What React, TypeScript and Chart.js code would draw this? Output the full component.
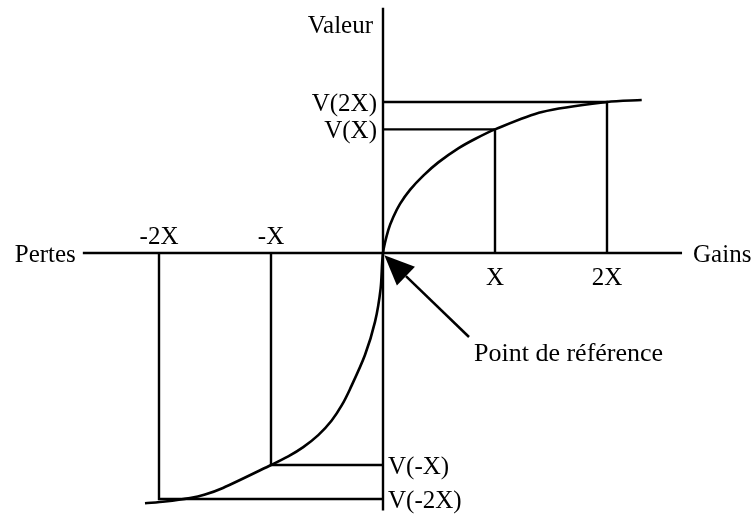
import React, { useEffect, useRef } from "react";
import { Chart, registerables } from "chart.js";

Chart.register(...registerables);

// Value function curve (x in units of X, y in value units)
const curveX = [
  -2.125, -1.946, -1.723, -1.589, -1.429, -1.0, -0.846, -0.712, -0.578, -0.458, -0.369, -0.295, -0.161, -0.071, -0.021,
  0, 0.047, 0.092, 0.152, 0.241, 0.36, 0.494, 0.672, 0.821, 1.0, 1.42, 2.0, 2.31,
];
const curveY = [
  -2.235, -2.219, -2.1875, -2.156, -2.098, -1.893, -1.816, -1.733, -1.626, -1.495, -1.361, -1.216, -0.911, -0.613, -0.315,
  0, 0.204, 0.322, 0.439, 0.564, 0.691, 0.809, 0.934, 1.018, 1.104, 1.259, 1.348, 1.366,
];

// Marked outcomes and their values
const tickX = [-2, -1, 1, 2];
const tickXLabels = ["-2X", "-X", "X", "2X"];
const tickV = [-2.196, -1.893, 1.104, 1.348];
const tickVLabels = ["V(-2X)", "V(-X)", "V(X)", "V(2X)"];

// Axis extents
const xAxisExtent = [-2.68, 2.67];
const yAxisExtent = [-2.3, 2.19];
const axisTitles = { left: "Pertes", right: "Gains", top: "Valeur" };

// Reference point annotation: arrow tail and tip
const arrowTail = [0.768, -0.75];
const arrowTip = [0.012, -0.02];
const arrowLabel = "Point de référence";

const FONT = "'Liberation Serif', 'Times New Roman', serif";

const labelPlugin = {
  id: "diagramLabels",
  afterDatasetsDraw(chart: any) {
    const { ctx } = chart;
    const xs = chart.scales.x;
    const ys = chart.scales.y;
    const px = (v: number) => xs.getPixelForValue(v);
    const py = (v: number) => ys.getPixelForValue(v);
    ctx.save();
    ctx.fillStyle = "#000";
    ctx.strokeStyle = "#000";
    ctx.font = `25px ${FONT}`;
    ctx.textBaseline = "alphabetic";

    // x tick labels
    tickX.forEach((t, i) => {
      ctx.textAlign = "center";
      if (t < 0) ctx.fillText(tickXLabels[i], px(t), py(0) - 9);
      else ctx.fillText(tickXLabels[i], px(t), py(0) + 32);
    });
    // value labels
    tickV.forEach((v, i) => {
      if (v > 0) {
        ctx.textAlign = "right";
        ctx.fillText(tickVLabels[i], px(0) - 6, py(v) + 9);
      } else {
        ctx.textAlign = "left";
        ctx.fillText(tickVLabels[i], px(0) + 5, py(v) + 9);
      }
    });
    // axis titles
    ctx.textAlign = "right";
    ctx.fillText(axisTitles.left, px(xAxisExtent[0]) - 7, py(0) + 9);
    ctx.textAlign = "left";
    ctx.fillText(axisTitles.right, px(xAxisExtent[1]) + 11, py(0) + 9);
    ctx.textAlign = "right";
    ctx.fillText(axisTitles.top, px(0) - 10, py(yAxisExtent[1]) + 25);

    // arrow
    const tx = px(arrowTail[0]);
    const ty = py(arrowTail[1]);
    const hx = px(arrowTip[0]);
    const hy = py(arrowTip[1]);
    const ang = Math.atan2(hy - ty, hx - tx);
    const headLen = 30;
    const headHalf = 13;
    const bx = hx - headLen * Math.cos(ang);
    const by = hy - headLen * Math.sin(ang);
    ctx.lineWidth = 2.5;
    ctx.beginPath();
    ctx.moveTo(tx, ty);
    ctx.lineTo(bx, by);
    ctx.stroke();
    ctx.beginPath();
    ctx.moveTo(hx, hy);
    ctx.lineTo(bx + headHalf * Math.sin(ang), by - headHalf * Math.cos(ang));
    ctx.lineTo(bx - headHalf * Math.sin(ang), by + headHalf * Math.cos(ang));
    ctx.closePath();
    ctx.fill();

    ctx.textAlign = "left";
    ctx.font = `26px ${FONT}`;
    ctx.fillText(arrowLabel, tx + 5, ty + 24);
    ctx.restore();
  },
};

export default function App() {
  const ref = useRef<HTMLCanvasElement | null>(null);
  useEffect(() => {
    if (!ref.current) return;
    const lineStyle = {
      showLine: true,
      borderColor: "#000",
      borderWidth: 2.4,
      pointRadius: 0,
      fill: false,
      clip: false as any,
    };
    const datasets: any[] = [];
    // axes
    datasets.push({ ...lineStyle, data: [{ x: xAxisExtent[0], y: 0 }, { x: xAxisExtent[1], y: 0 }] });
    datasets.push({ ...lineStyle, data: [{ x: 0, y: yAxisExtent[0] }, { x: 0, y: yAxisExtent[1] }] });
    // guide lines
    tickX.forEach((t, i) => {
      const v = tickV[i];
      datasets.push({
        ...lineStyle,
        data: [{ x: t, y: 0 }, { x: t, y: v }, { x: 0, y: v }],
      });
    });
    // curve
    datasets.push({
      ...lineStyle,
      borderWidth: 2.6,
      tension: 0.3,
      data: curveX.map((x, i) => ({ x, y: curveY[i] })),
    });

    const W = 756;
    const H = 514;
    const ox = 383;
    const oy = 253;
    const unit = 112;
    const chart = new Chart(ref.current, {
      type: "scatter",
      data: { datasets },
      options: {
        animation: false,
        responsive: false,
        devicePixelRatio: 1,
        layout: { padding: 0 },
        plugins: { legend: { display: false }, tooltip: { enabled: false } },
        events: [],
        scales: {
          x: { type: "linear", display: false, min: -ox / unit, max: (W - ox) / unit },
          y: { type: "linear", display: false, min: -(H - oy) / unit, max: oy / unit },
        },
      },
      plugins: [labelPlugin],
    });
    return () => chart.destroy();
  }, []);
  return (
    <div style={{ position: "fixed", left: 0, top: 0, width: 756, height: 514, background: "#fff" }}>
      <canvas ref={ref} width={756} height={514} style={{ width: 756, height: 514, display: "block" }} />
    </div>
  );
}
